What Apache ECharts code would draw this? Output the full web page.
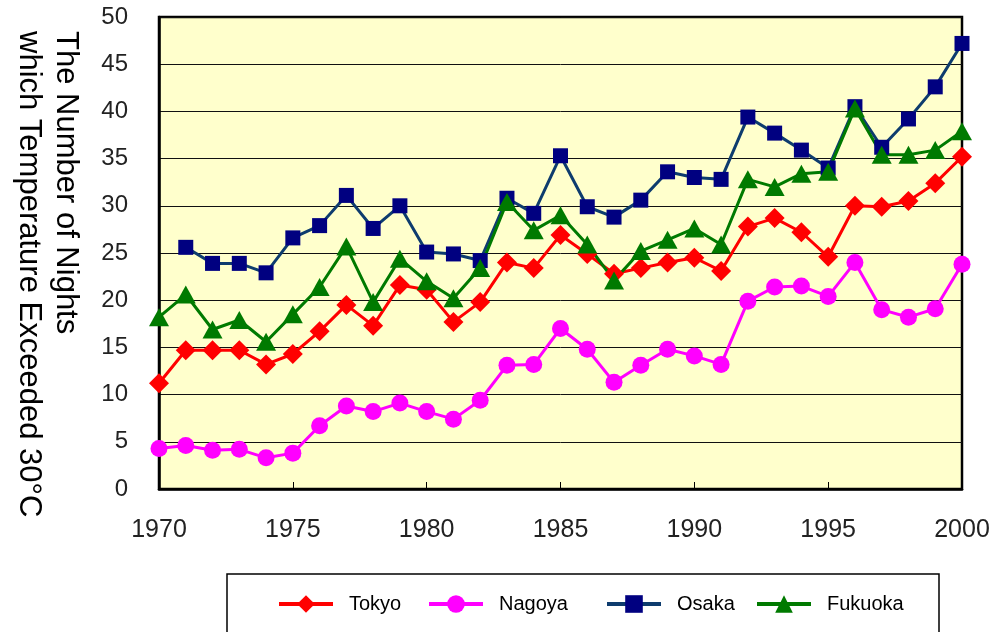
<!DOCTYPE html>
<html>
<head>
<meta charset="utf-8">
<script src="https://cdn.jsdelivr.net/npm/echarts@6/dist/echarts.min.js"></script>
<style>html,body{margin:0;padding:0;background:#fff;}#c{width:991px;height:632px;}</style>
</head>
<body>
<div id="c"></div>
<script>
var years = [1970,1971,1972,1973,1974,1975,1976,1977,1978,1979,1980,1981,1982,1983,1984,1985,1986,1987,1988,1989,1990,1991,1992,1993,1994,1995,1996,1997,1998,1999,2000];
var tokyo = [11.2,14.7,14.7,14.7,13.2,14.3,16.7,19.5,17.3,21.6,21.1,17.7,19.8,24.0,23.4,26.9,24.9,22.8,23.4,24.0,24.5,23.1,27.8,28.7,27.2,24.6,30.0,29.9,30.5,32.4,35.2];
var nagoya = [4.3,4.6,4.1,4.2,3.3,3.8,6.7,8.8,8.2,9.1,8.2,7.4,9.4,13.1,13.2,17.0,14.8,11.3,13.1,14.8,14.1,13.2,19.9,21.4,21.5,20.4,24.0,19.0,18.2,19.1,23.8];
var osaka = [null,25.6,23.9,23.9,22.9,26.6,27.9,31.1,27.6,30.0,25.1,24.9,24.2,30.8,29.2,35.3,29.9,28.8,30.6,33.6,33.0,32.8,39.4,37.7,35.9,34.0,40.5,36.2,39.2,42.6,47.2];
var fukuoka = [18.2,20.6,16.9,17.9,15.6,18.5,21.4,25.7,19.8,24.4,22.0,20.2,23.4,30.4,27.4,29.0,25.9,22.1,25.2,26.4,27.6,25.9,32.8,32.0,33.4,33.6,40.3,35.4,35.4,35.9,37.9];
var seriesNames = ['Tokyo','Nagoya','Osaka','Fukuoka'];
var yTitle = 'The Number of Nights\nwhich Temperature Exceeded 30\u00B0C';

function pairs(arr){ return years.map(function(y,i){ return arr[i]==null ? null : [y, arr[i]]; }).filter(function(p){return p;}); }

var FONT = '"Liberation Sans", Arial, sans-serif';
var chart = echarts.init(document.getElementById('c'), null, {renderer:'canvas'});

function legendAt(name, left){
  return {
    data:[name], left:left, top:594, orient:'horizontal', padding:0,
    itemWidth:54, itemHeight:22, itemGap:0,
    lineStyle:{width:4},
    textStyle:{fontFamily:FONT, fontSize:20, color:'#000', padding:[0,0,0,11]}
  };
}

chart.setOption({
  animation:false,
  backgroundColor:'#ffffff',
  grid:{left:159, right:29, top:17, bottom:143, show:true, backgroundColor:'#FFFFCC', borderColor:'#000', borderWidth:2.5, outerBoundsMode:'none', containLabel:false},
  graphic:[
    {type:'rect', shape:{x:227, y:574, width:712, height:80}, style:{fill:'#fff', stroke:'#000', lineWidth:1.5}, z:-1},
    {type:'text', x:84, y:31, rotation:-Math.PI/2,
     style:{text:yTitle, font:'31px ' + FONT, fill:'#000', align:'left', verticalAlign:'top', lineHeight:37}}
  ],
  legend:[legendAt('Tokyo',277), legendAt('Nagoya',427), legendAt('Osaka',605), legendAt('Fukuoka',755)],
  xAxis:{type:'value', min:1970, max:2000, interval:5,
    axisLine:{show:true, lineStyle:{color:'#000', width:2.5}},
    axisTick:{show:true, inside:true, length:7, lineStyle:{color:'#000', width:1}},
    splitLine:{show:false},
    axisLabel:{fontFamily:FONT, fontSize:25, color:'#222', margin:29, formatter:function(v){return String(v);}}
  },
  yAxis:{type:'value', min:0, max:50, interval:5,
    axisLine:{show:true, lineStyle:{color:'#000', width:2.5}},
    axisTick:{show:false},
    splitLine:{show:true, lineStyle:{color:'#111', width:1}},
    axisLabel:{fontFamily:FONT, fontSize:24, color:'#222', margin:31}
  },
  series:[
    {name:seriesNames[0], type:'line', data:pairs(tokyo), symbol:'diamond', symbolSize:20,
     lineStyle:{color:'#FF0000', width:3}, itemStyle:{color:'#FF0000'}},
    {name:seriesNames[1], type:'line', data:pairs(nagoya), symbol:'circle', symbolSize:17,
     lineStyle:{color:'#FF00FF', width:3}, itemStyle:{color:'#FF00FF'}},
    {name:seriesNames[2], type:'line', data:pairs(osaka), symbol:'rect', symbolSize:15,
     lineStyle:{color:'#0E3C6E', width:3}, itemStyle:{color:'#000080'}},
    {name:seriesNames[3], type:'line', data:pairs(fukuoka), symbol:'triangle', symbolSize:[20,18],
     lineStyle:{color:'#007A00', width:3}, itemStyle:{color:'#007A00'}}
  ]
});
</script>
</body>
</html>
